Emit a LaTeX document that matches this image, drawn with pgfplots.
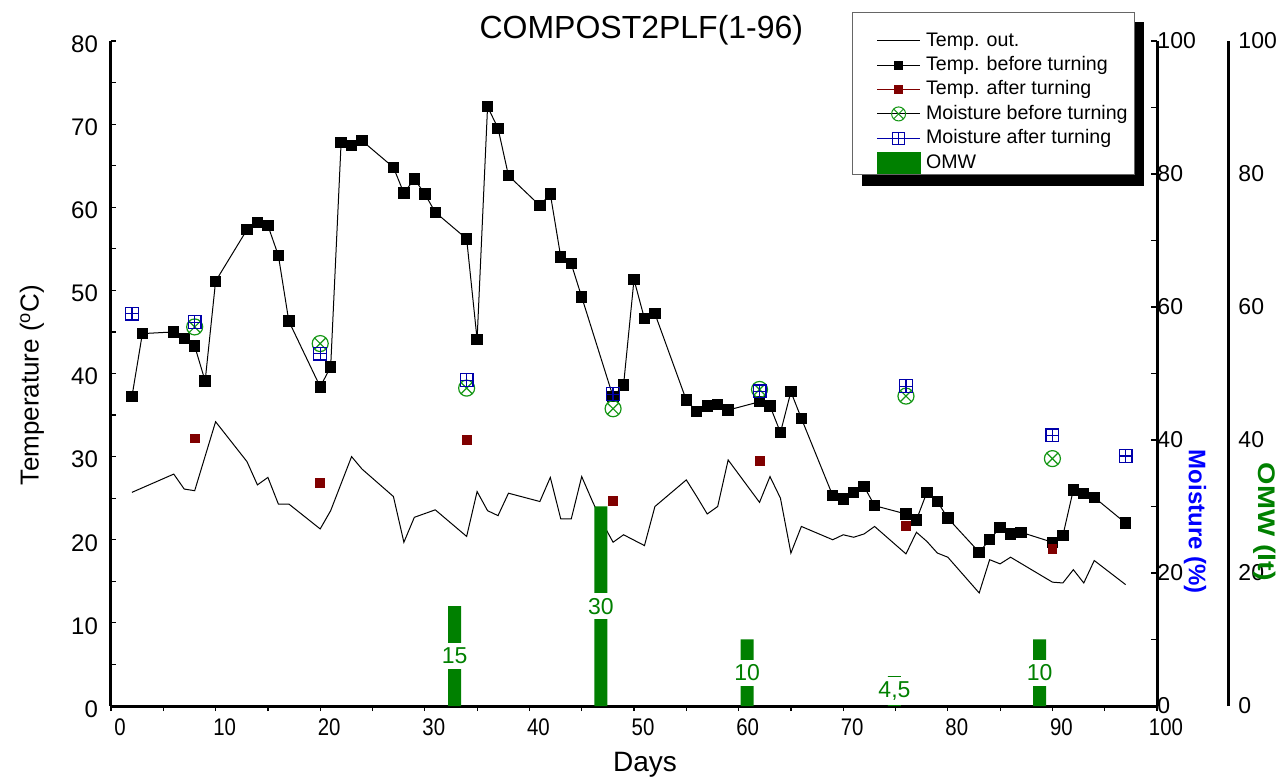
\documentclass[border=0pt]{standalone}
\usepackage{fontspec}
\setmainfont{Liberation Sans}
\newfontfamily\narrowsans[FakeStretch=0.85]{Liberation Sans}
\newfontfamily\widesans[FakeStretch=1.2]{Liberation Sans}
\usepackage{pgfplots}
\usepackage{pgfplotstable}
\pgfplotsset{compat=1.18}
\usetikzlibrary{plotmarks}

\definecolor{tempred}{RGB}{128,0,0}
\definecolor{moistgreen}{RGB}{20,150,20}
\definecolor{moistblue}{RGB}{0,0,170}
\definecolor{omwgreen}{RGB}{0,128,0}
\definecolor{labelblue}{RGB}{0,0,255}

% square with a cross inside
\pgfdeclareplotmark{boxplus}{%
  \pgfpathrectangle{\pgfqpoint{-\pgfplotmarksize}{-\pgfplotmarksize}}{\pgfqpoint{2\pgfplotmarksize}{2\pgfplotmarksize}}%
  \pgfpathmoveto{\pgfqpoint{-\pgfplotmarksize}{0pt}}\pgfpathlineto{\pgfqpoint{\pgfplotmarksize}{0pt}}%
  \pgfpathmoveto{\pgfqpoint{0pt}{-\pgfplotmarksize}}\pgfpathlineto{\pgfqpoint{0pt}{\pgfplotmarksize}}%
  \pgfusepathqstroke}

% same geometry for the legend and for its black shadow
\pgfplotsset{
  legendbox/.style={
    legend cell align=left,
    legend style={anchor=north west, line width=0.5pt,
      font=\fontsize{9.8}{12}\selectfont, row sep=0pt, inner xsep=0.5pt, inner ysep=0pt,
      nodes={inner xsep=2.7pt, inner ysep=1.2pt, text height=7.6pt, text depth=2.2pt}},
  },
}

\pgfplotstableread{
day t
2 25.7
6 27.9
7 26.1
8 25.9
10 34.2
13 29.4
14 26.6
15 27.5
16 24.3
17 24.3
20 21.3
21 23.5
23 30.0
24 28.5
27 25.2
28 19.7
29 22.7
31 23.6
34 20.4
35 25.8
36 23.5
37 22.9
38 25.6
41 24.6
42 27.5
43 22.5
44 22.5
45 27.6
46 24.7
47 22.0
48 19.7
49 20.6
51 19.3
52 24.0
55 27.2
56 25.2
57 23.1
58 24.0
59 29.6
62 24.5
63 27.6
64 25.0
65 18.4
66 21.6
69 20.0
70 20.6
71 20.3
72 20.7
73 21.6
76 18.3
77 20.9
78 19.8
79 18.4
80 17.9
83 13.6
84 17.6
85 17.1
86 17.9
90 14.9
91 14.8
92 16.4
93 14.8
94 17.5
97 14.6
}\tempout

\pgfplotstableread{
day t
2 37.2
3 44.8
6 45.0
7 44.2
8 43.3
9 39.1
10 51.1
13 57.3
14 58.2
15 57.8
16 54.2
17 46.3
20 38.4
21 40.8
22 67.8
23 67.4
24 68.0
27 64.8
28 61.7
29 63.4
30 61.6
31 59.4
34 56.2
35 44.1
36 72.1
37 69.5
38 63.8
41 60.2
42 61.6
43 54.0
44 53.2
45 49.2
48 37.2
49 38.6
50 51.3
51 46.6
52 47.2
55 36.8
56 35.4
57 36.1
58 36.3
59 35.6
62 36.6
63 36.1
64 32.9
65 37.8
66 34.6
69 25.3
70 24.9
71 25.7
72 26.4
73 24.1
76 23.1
77 22.4
78 25.7
79 24.6
80 22.6
83 18.5
84 20.0
85 21.5
86 20.7
87 20.9
90 19.7
91 20.5
92 26.0
93 25.6
94 25.1
97 22.0
}\tempbefore

\pgfplotstableread{
day t
8 32.2
20 26.8
34 32.0
48 24.7
62 29.5
76 21.7
90 18.9
}\tempafter

\pgfplotstableread{
day m
8 57.0
20 54.5
34 47.8
48 44.7
62 47.6
76 46.6
90 37.2
}\moistbefore

\pgfplotstableread{
day m
2 59.0
8 57.7
20 53.0
34 49.0
48 46.9
62 47.3
76 48.1
90 40.7
97 37.6
}\moistafter

\pgfplotstableread{
day omw lab
32.9 15 15
46.9 30 30
60.9 10 10
75.0 4.5 4,5
88.9 10 10
}\omw

\begin{document}
\begin{tikzpicture}
\useasboundingbox (-55.5pt,-37.5pt) rectangle (583.5pt,353pt);
% temperature axis (its legend is only the black shadow)
\begin{axis}[
  scale only axis, width=523pt, height=332.5pt,
  xmin=0, xmax=100, ymin=0, ymax=80,
  axis x line*=bottom, axis y line*=left,
  axis line style={line width=1.5pt},
  xtick={0,10,...,100}, minor xtick={5,15,...,95},
  ytick={0,10,...,80}, minor ytick={5,15,...,75},
  tick align=inside, major tick length=2.5pt, minor tick length=2.5pt,
  tick style={black, line width=0.6pt},
  xtick style={yshift=-2.5pt},
  /pgf/number format/assume math mode=true,
  xticklabel style={font=\narrowsans\fontsize{12}{12}\selectfont, xshift=4.5pt, yshift=-3pt},
  yticklabel style={font=\fontsize{12}{12}\selectfont, xshift=-3pt, yshift=-1.5pt},
  xlabel={Days}, ylabel={Temperature (\textsuperscript{o}C)},
  every axis x label/.style={at={(axis description cs:0.5105,0)}, yshift=-29.5pt, anchor=center, font=\fontsize{14}{14}\selectfont},
  every axis y label/.style={at={(axis description cs:-0.0755,0.483)}, rotate=90, anchor=center, font=\fontsize{13}{13}\selectfont},
  title={COMPOST2PLF(1-96)},
  every axis title/.style={at={(axis description cs:0.507,1.0166)}, anchor=center, font=\fontsize{16}{16}\selectfont},
  legendbox,
  legend style={at={(0.718,1.0282)}, fill=black, draw=black, text=black},
  legend image code/.code={\path (0pt,0pt) (33pt,0pt);},
]
\addplot[forget plot, black, line width=0.5pt, mark=none] table[x=day, y=t] \tempout;
\addplot[forget plot, black, line width=0.5pt, mark=square*, mark size=2.6pt] table[x=day, y=t] \tempbefore;
\addplot[forget plot, only marks, mark=square*, mark size=2.2pt, tempred] table[x=day, y=t] \tempafter;
\addlegendimage{legend image code/.code={\path (0pt,0pt) (33pt,14pt);}}
\addlegendentry{\phantom{Temp. out.}}
\addlegendimage{}
\addlegendentry{\phantom{Temp. before turning}}
\addlegendimage{}
\addlegendentry{\phantom{Temp. after turning}}
\addlegendimage{}
\addlegendentry{\phantom{Moisture before turning}}
\addlegendimage{}
\addlegendentry{\phantom{Moisture after turning}}
\addlegendimage{}
\addlegendentry{\phantom{OMW}}
\end{axis}

% moisture axis, with the legend
\begin{axis}[
  scale only axis, width=523pt, height=332.5pt,
  xmin=0, xmax=100, ymin=0, ymax=100,
  axis x line=none, axis y line*=right,
  axis line style={line width=1.5pt},
  ytick={0,20,...,100}, minor ytick={10,30,...,90},
  tick align=inside, major tick length=3pt, minor tick length=3pt,
  tick style={black, line width=0.6pt},
  /pgf/number format/assume math mode=true,
  yticklabel style={font=\fontsize{11.5}{11.5}\selectfont, xshift=-3.3pt},
  ylabel={\bfseries Moisture (\%)},
  every axis y label/.style={at={(axis description cs:1.0363,0.2767)}, rotate=-90, anchor=center, text=labelblue, font=\fontsize{12}{12}\selectfont},
  legendbox,
  legend style={at={(0.7084,1.044)}, fill=white, draw=black!60},
  legend image code/.code={\path (0pt,0pt); \draw[mark repeat=2,mark phase=2,#1] plot coordinates {(11.5pt,0pt) (22.25pt,0pt) (33pt,0pt)};},
]
\addplot[forget plot, only marks, mark=otimes, mark size=4pt, mark options={moistgreen, line width=0.6pt}] table[x=day, y=m] \moistbefore;
\addplot[forget plot, only marks, mark=boxplus, mark size=3.2pt, mark options={moistblue, line width=0.6pt}] table[x=day, y=m] \moistafter;

\addlegendimage{legend image code/.code={\path (0pt,0pt) (0pt,14pt); \draw[black, line width=0.5pt] (11.5pt,0pt) -- (33pt,0pt);}}
\addlegendentry{Temp. out.}
\addlegendimage{black, line width=0.5pt, mark=square*, mark size=2pt}
\addlegendentry{Temp. before turning}
\addlegendimage{tempred, line width=0.5pt, mark=square*, mark size=2pt}
\addlegendentry{Temp. after turning}
\addlegendimage{black, line width=0.5pt, mark=otimes, mark size=3.5pt, mark options={moistgreen}}
\addlegendentry{Moisture before turning}
\addlegendimage{moistblue, line width=0.6pt, mark=boxplus, mark size=3pt}
\addlegendentry{Moisture after turning}
\addlegendimage{legend image code/.code={\path (0pt,0pt); \fill[omwgreen] (11.5pt,-5.15pt) rectangle (33pt,5.15pt);}}
\addlegendentry{OMW}
\end{axis}

% OMW axis, its line further right
\begin{axis}[
  scale only axis, width=558.5pt, height=332.5pt,
  xmin=0, xmax=106.93, ymin=0, ymax=100,
  axis x line=none, axis y line*=right,
  axis line style={line width=1.5pt},
  ytick={0,20,...,100}, major tick length=0pt,
  /pgf/number format/assume math mode=true,
  yticklabel style={font=\fontsize{11.5}{11.5}\selectfont, xshift=1.7pt},
  ylabel={\widesans\bfseries OMW (lt)},
  every axis y label/.style={at={(axis description cs:1.0331,0.2767)}, rotate=-90, anchor=center, text=omwgreen, font=\fontsize{12}{12}\selectfont},
]
\addplot[ybar, bar width=6.5pt, fill=omwgreen, draw=none] table[x=day, y=omw] \omw;
\addplot[draw=none, mark=none, nodes near coords, point meta=explicit symbolic,
  nodes near coords align={anchor=center},
  every node near coord/.append style={fill=white, text=omwgreen, inner sep=2.5pt, font=\fontsize{11.5}{11.5}\selectfont}]
  table[x=day, y expr=\thisrow{omw}/2, meta=lab] \omw;
\end{axis}
\end{tikzpicture}
\end{document}
